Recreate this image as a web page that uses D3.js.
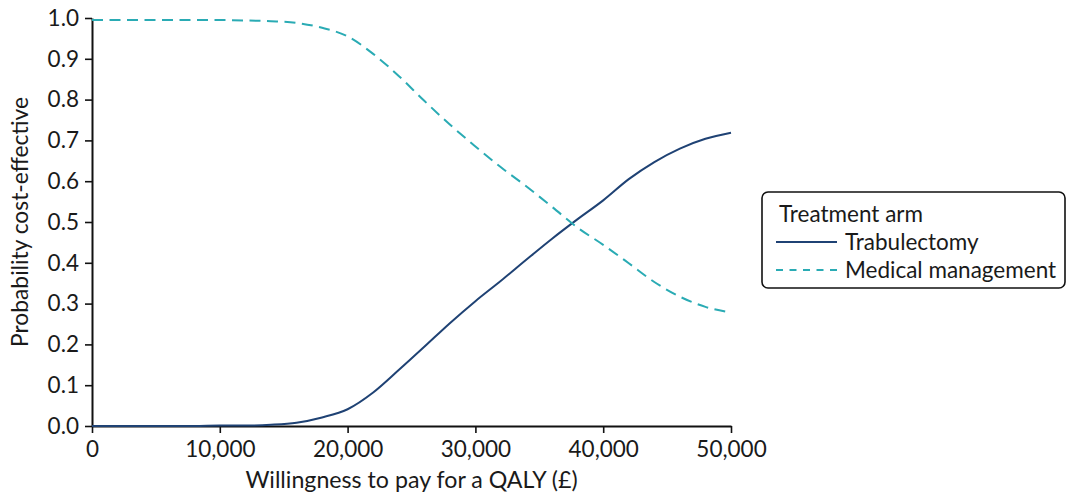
<!DOCTYPE html>
<html>
<head>
<meta charset="utf-8">
<script src="https://cdn.jsdelivr.net/npm/d3@7"></script>
<style>
  html, body { margin: 0; padding: 0; background: #fff; }
  svg { display: block; font-family: Lato, "Open Sans", sans-serif; }
</style>
</head>
<body>
<svg id="chart" width="1067" height="497"></svg>
<script>
// ---- data ----
const wtp = [0, 2000, 4000, 6000, 8000, 10000, 12000, 14000, 16000, 18000, 20000, 22000, 24000,
             26000, 28000, 30000, 32000, 34000, 36000, 38000, 40000, 42000, 44000, 46000, 48000, 50000];
const trabulectomy = [0.000, 0.000, 0.000, 0.000, 0.000, 0.001, 0.001, 0.003, 0.008, 0.021, 0.041, 0.082, 0.137,
                      0.194, 0.252, 0.306, 0.356, 0.408, 0.459, 0.507, 0.553, 0.605, 0.647, 0.680, 0.704, 0.719];
const medicalManagement = [0.995, 0.995, 0.995, 0.995, 0.995, 0.995, 0.994, 0.992, 0.988, 0.976, 0.955, 0.912, 0.858,
                           0.797, 0.739, 0.685, 0.634, 0.587, 0.537, 0.486, 0.444, 0.399, 0.353, 0.317, 0.292, 0.278];
const xTicks = [0, 10000, 20000, 30000, 40000, 50000];
const yTicks = [0, 0.1, 0.2, 0.3, 0.4, 0.5, 0.6, 0.7, 0.8, 0.9, 1.0];
const seriesNames = ["Trabulectomy", "Medical management"];
const legendTitle = "Treatment arm";
const xTitle = "Willingness to pay for a QALY (£)";
const yTitle = "Probability cost-effective";

// ---- layout ----
const svg = d3.select("#chart");
const mLeft = 92, mRight = 731, mTop = 18, mBottom = 426;
const x = d3.scaleLinear().domain([0, 50000]).range([mLeft, mRight]);
const y = d3.scaleLinear().domain([0, 1]).range([mBottom, mTop]);
const textColor = "#1a1a1a";
const fs = "22.5px";
const colors = ["#1f4274", "#2aabb4"];
const dashes = [null, "11,6.5"];
const legendDashes = [null, "7,6.5"];

// axes
const xAxis = svg.append("g").attr("transform", `translate(0,${mBottom})`)
  .call(d3.axisBottom(x).tickValues(xTicks).tickFormat(d3.format(",")).tickSize(7).tickPadding(8).tickSizeOuter(0));
const yAxis = svg.append("g").attr("transform", `translate(${mLeft},0)`)
  .call(d3.axisLeft(y).tickValues(yTicks).tickFormat(d3.format(".1f")).tickSize(7).tickPadding(6).tickSizeOuter(0));
[xAxis, yAxis].forEach(g => {
  g.selectAll("path.domain").attr("stroke", "#111").attr("stroke-width", 2);
  g.selectAll(".tick line").attr("stroke", "#111").attr("stroke-width", 1.6);
  g.selectAll(".tick text").attr("fill", textColor).style("font-size", fs).style("font-family", "Lato");
});

// axis titles
svg.append("text").attr("x", (mLeft + mRight) / 2).attr("y", 488)
  .attr("text-anchor", "middle").attr("fill", textColor).style("font-size", "23.2px")
  .text(xTitle);
svg.append("text").attr("transform", `translate(28,${(mTop + mBottom) / 2}) rotate(-90)`)
  .attr("text-anchor", "middle").attr("fill", textColor).style("font-size", "22.8px")
  .text(yTitle);

// lines
const series = [trabulectomy, medicalManagement];
const line = d3.line().x(d => x(d[0])).y(d => y(d[1])).curve(d3.curveMonotoneX);
series.forEach((vals, i) => {
  svg.append("path")
    .datum(wtp.map((w, j) => [w, vals[j]]))
    .attr("fill", "none")
    .attr("stroke", colors[i])
    .attr("stroke-width", 2)
    .attr("stroke-dasharray", dashes[i])
    .attr("d", line);
});

// legend
const lg = svg.append("g");
lg.append("rect").attr("x", 762).attr("y", 192).attr("width", 303).attr("height", 96)
  .attr("rx", 6).attr("ry", 6).attr("fill", "#fff").attr("stroke", "#111").attr("stroke-width", 1.6);
lg.append("text").attr("x", 779).attr("y", 222).attr("fill", textColor).style("font-size", fs).text(legendTitle);
seriesNames.forEach((name, i) => {
  const yy = 242 + i * 28;
  lg.append("line").attr("x1", 776).attr("x2", 837).attr("y1", yy).attr("y2", yy)
    .attr("stroke", colors[i]).attr("stroke-width", 2).attr("stroke-dasharray", legendDashes[i]);
  lg.append("text").attr("x", 845).attr("y", yy + 8).attr("fill", textColor).style("font-size", fs).text(name);
});
</script>
</body>
</html>
